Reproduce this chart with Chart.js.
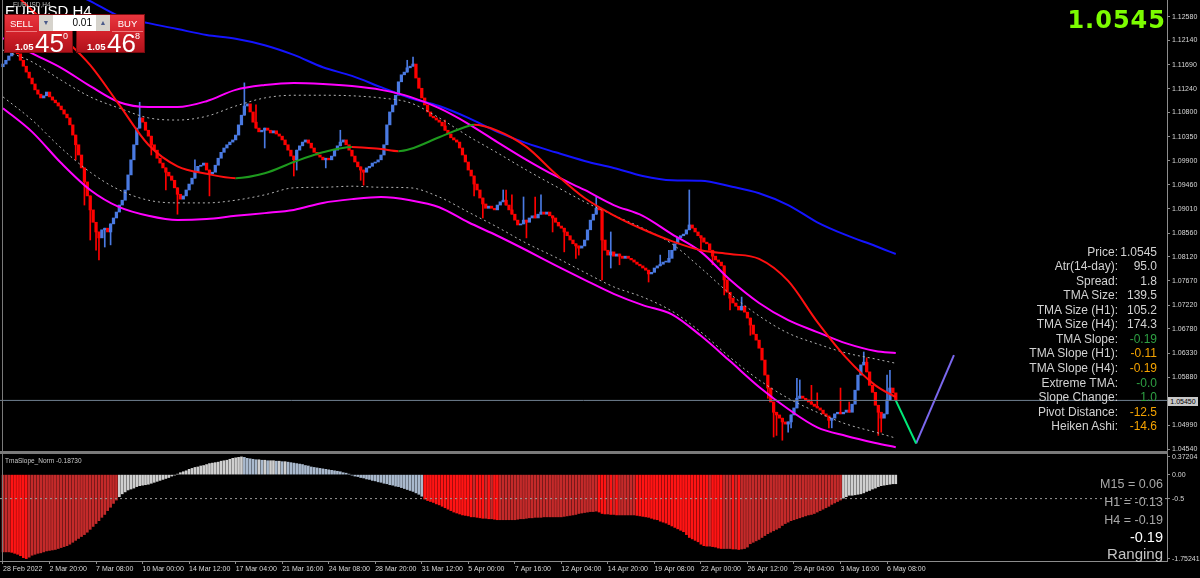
<!DOCTYPE html>
<html>
<head>
<meta charset="utf-8">
<title>EURUSD,H4</title>
<script src="https://cdn.jsdelivr.net/npm/chart.js@4.4.1/dist/chart.umd.min.js"></script>
<style>
  html, body { margin: 0; padding: 0; background: #000; }
  body { width: 1200px; height: 578px; position: relative; overflow: hidden; font-family: "Liberation Sans", Arial, sans-serif; }
  canvas { position: absolute; left: 0; }
  #priceChart { top: 0; }
  #slopeChart { top: 454px; }
  .rule { position: absolute; background: #7a7a7a; }
  #symBig { position: absolute; left: 5px; top: 3px; color: #fff; font-size: 15px; line-height: 16px; }
  #symSmall { position: absolute; left: 13px; top: 1px; color: #bdbdbd; font-size: 6.5px; line-height: 7px; }
  .box { position: absolute; top: 14px; width: 69px; height: 39px; border: 1px solid #7a0c10; box-sizing: border-box;
         background: linear-gradient(to bottom, #e8363e 0%, #d4222b 45%, #b0121b 100%); color: #fff; }
  .box .hdr { position: absolute; top: 1px; width: 31px; height: 15px; line-height: 15px; text-align: center; font-size: 9.5px;
              border-bottom: 1px solid #ef7a7e; }
  .box .s { position: absolute; left: 10px; top: 27px; font-size: 9.5px; line-height: 10px; font-weight: bold; }
  .box .b { position: absolute; left: 30px; top: 15px; font-size: 26px; line-height: 26px; }
  .box .u { position: absolute; left: 58px; top: 17px; font-size: 9px; line-height: 9px; }
  #lot { position: absolute; left: 39px; top: 15px; width: 71px; height: 16px; background: #fff; }
  #lot .ar { position: absolute; top: 0; width: 14px; height: 16px; background: #d6d3cc; color: #4a5a8a; font-size: 7px; line-height: 16px; text-align: center; }
  #lot .v { position: absolute; right: 18px; top: 0; font-size: 10px; line-height: 16px; color: #000; }
  #bigPrice { position: absolute; right: 34px; top: 8px; color: #7cfc00; font-family: "DejaVu Sans", sans-serif; font-weight: bold;
              font-size: 24px; line-height: 24px; letter-spacing: 1px; }
  #info { position: absolute; left: 960px; top: 244.6px; width: 200px; font-size: 12px; line-height: 14.55px; color: #d2d2d2; }
  #info div { height: 14.55px; white-space: nowrap; }
  #info .k { display: inline-block; width: 158px; text-align: right; }
  #info .v { display: inline-block; width: 39px; text-align: right; }
  .g { color: #2ea043; }
  .o { color: #f5a300; }
  #bidBox { position: absolute; left: 1168px; top: 397px; width: 30px; height: 9px; background: #c8c8c8; color: #000;
            font-size: 7px; line-height: 9px; text-align: center; }
  #slopeName { position: absolute; left: 5px; top: 457px; color: #c8c8c8; font-size: 6.5px; line-height: 7px; white-space: nowrap; }
  .tf { position: absolute; right: 37px; text-align: right; white-space: nowrap; }
</style>
</head>
<body>
<canvas id="priceChart" width="1200" height="451"></canvas>
<canvas id="slopeChart" width="1200" height="124"></canvas>
<div class="rule" style="left:0;top:451px;width:1168px;height:3px"></div>
<div class="rule" style="left:2px;top:0;width:1px;height:561px"></div>

<div id="symBig">EURUSD,H4</div>
<div id="symSmall">EURUSD,H4</div>
<div class="box" style="left:4px">
  <div class="hdr" style="left:1px">SELL</div>
  <span class="s">1.05</span><span class="b">45</span><span class="u">0</span>
</div>
<div class="box" style="left:76px">
  <div class="hdr" style="left:35px">BUY</div>
  <span class="s">1.05</span><span class="b">46</span><span class="u">8</span>
</div>
<div id="lot"><span class="ar" style="left:0">&#9660;</span><span class="v">0.01</span><span class="ar" style="right:0">&#9650;</span></div>

<div id="bigPrice">1.0545</div>
<div id="info">
  <div><span class="k">Price:</span><span class="v">1.0545</span></div>
  <div><span class="k">Atr(14-day):</span><span class="v">95.0</span></div>
  <div><span class="k">Spread:</span><span class="v">1.8</span></div>
  <div><span class="k">TMA Size:</span><span class="v">139.5</span></div>
  <div><span class="k">TMA Size (H1):</span><span class="v">105.2</span></div>
  <div><span class="k">TMA Size (H4):</span><span class="v">174.3</span></div>
  <div><span class="k">TMA Slope:</span><span class="v g">-0.19</span></div>
  <div><span class="k">TMA Slope (H1):</span><span class="v o">-0.11</span></div>
  <div><span class="k">TMA Slope (H4):</span><span class="v o">-0.19</span></div>
  <div><span class="k">Extreme TMA:</span><span class="v g">-0.0</span></div>
  <div><span class="k">Slope Change:</span><span class="v g">1.0</span></div>
  <div><span class="k">Pivot Distance:</span><span class="v o">-12.5</span></div>
  <div><span class="k">Heiken Ashi:</span><span class="v o">-14.6</span></div>
</div>
<div id="bidBox">1.05450</div>

<div id="slopeName">TmaSlope_Norm -0.18730</div>
<div class="tf" style="top:476.7px;font-size:12.5px;line-height:14px;color:#a8a8a8">M15 = 0.06</div>
<div class="tf" style="top:494.7px;font-size:12.5px;line-height:14px;color:#a8a8a8">H1 = -0.13</div>
<div class="tf" style="top:513px;font-size:12.5px;line-height:14px;color:#a8a8a8">H4 = -0.19</div>
<div class="tf" style="top:529px;font-size:14.5px;line-height:16px;color:#ffffff">-0.19</div>
<div class="tf" style="top:545px;font-size:15px;line-height:17px;color:#c4c4c4">Ranging</div>

<script>
// ---- price panel (EURUSD H4), one close per bar ----
const firstOpen = 1.1165;
const closes = [
  1.1170,1.1177,1.1185,1.1192,1.1196,1.1189,1.1177,1.1166,1.1155,1.1144,
  1.1133,1.1122,1.1114,1.1107,1.1111,1.1118,1.1109,1.1103,1.1098,1.1092,
  1.1085,1.1077,1.1070,1.1057,1.1038,1.1020,1.1001,1.0977,1.0951,1.0925,
  1.0899,1.0876,1.0858,1.0847,1.0862,1.0865,1.0858,1.0873,1.0884,1.0895,
  1.0908,1.0917,1.0936,1.0964,1.0992,1.1020,1.1051,1.1070,1.1062,1.1047,
  1.1036,1.1020,1.1010,1.0995,1.0986,1.0977,1.0969,1.0962,1.0954,1.0940,
  1.0928,1.0919,1.0925,1.0936,1.0947,1.0958,1.0969,1.0980,1.0982,1.0986,
  1.0973,1.0966,1.0969,1.0982,1.0995,1.1006,1.1014,1.1020,1.1025,1.1029,
  1.1038,1.1057,1.1075,1.1092,1.1096,1.1081,1.1062,1.1051,1.1044,1.1047,
  1.1051,1.1047,1.1042,1.1046,1.1040,1.1036,1.1029,1.1020,1.1010,1.0999,
  1.0992,1.1010,1.1018,1.1025,1.1029,1.1023,1.1014,1.1006,1.1001,1.0997,
  1.0992,1.0995,1.0992,1.0999,1.1010,1.1018,1.1025,1.1029,1.1020,1.1010,
  1.0999,1.0988,1.0979,1.0973,1.0969,1.0977,1.0980,1.0986,1.0988,1.0992,
  1.1001,1.1020,1.1057,1.1081,1.1094,1.1112,1.1137,1.1150,1.1155,1.1163,
  1.1166,1.1170,1.1144,1.1125,1.1107,1.1094,1.1081,1.1073,1.1070,1.1066,
  1.1062,1.1055,1.1047,1.1040,1.1033,1.1029,1.1025,1.1014,1.1001,1.0988,
  1.0973,1.0962,1.0947,1.0936,1.0921,1.0910,1.0902,1.0906,1.0902,1.0899,
  1.0908,1.0914,1.0917,1.0908,1.0899,1.0891,1.0880,1.0871,1.0873,1.0880,
  1.0876,1.0884,1.0888,1.0884,1.0891,1.0895,1.0891,1.0895,1.0888,1.0884,
  1.0876,1.0869,1.0865,1.0858,1.0851,1.0843,1.0836,1.0832,1.0828,1.0832,
  1.0843,1.0862,1.0880,1.0891,1.0902,1.0899,1.0843,1.0824,1.0815,1.0821,
  1.0813,1.0817,1.0813,1.0809,1.0813,1.0809,1.0806,1.0802,1.0798,1.0795,
  1.0791,1.0787,1.0780,1.0783,1.0791,1.0795,1.0798,1.0802,1.0802,1.0809,
  1.0824,1.0836,1.0847,1.0851,1.0854,1.0862,1.0871,1.0865,1.0858,1.0851,
  1.0847,1.0839,1.0836,1.0824,1.0813,1.0806,1.0802,1.0795,1.0769,1.0746,
  1.0735,1.0726,1.0720,1.0713,1.0720,1.0709,1.0698,1.0685,1.0668,1.0657,
  1.0642,1.0620,1.0592,1.0568,1.0542,1.0523,1.0518,1.0512,1.0505,1.0501,
  1.0505,1.0518,1.0531,1.0549,1.0553,1.0549,1.0546,1.0542,1.0538,1.0534,
  1.0531,1.0527,1.0520,1.0516,1.0508,1.0512,1.0520,1.0523,1.0520,1.0523,
  1.0527,1.0523,1.0538,1.0564,1.0592,1.0611,1.0616,1.0598,1.0573,1.0560,
  1.0536,1.0523,1.0512,1.0520,1.0546,1.0568,1.0559,1.0545
];
// wicks that stick out of the bodies (null = no wick on that side)
const wickBars = [
  25,28,30,32,33,35,37,47,51,56,60,66,71,83,87,90,100,101,111,116,123,124,139,141,
  152,162,165,172,173,175,179,180,183,185,189,193,197,198,204,206,209,212,222,226,
  229,236,240,244,248,250,254,257,263,265,266,268,270,271,273,274,278,280,284,285,
  288,291,296,297,301,302,304,305
];
const wickHighs = [
  null,null,null,null,null,null,null,1.1099,null,null,null,1.0992,null,1.1135,1.1094,null,null,null,null,1.1047,null,null,1.1177,1.1183,
  1.1066,null,null,1.0936,1.0936,1.0927,1.0923,null,1.0923,1.0927,null,null,null,null,1.0923,null,1.0858,null,null,1.0815,
  1.0824,1.0936,null,null,null,null,1.0737,null,null,null,null,null,null,null,1.0586,1.0583,1.0573,1.0559,null,null,
  1.0568,1.0542,1.0635,1.0624,null,null,1.0592,1.0601
];
const wickLows = [
  1.0992,1.0908,1.0843,1.0824,1.0806,1.0830,1.0834,null,1.1001,1.0936,1.0891,null,1.0925,null,null,1.1014,1.0962,1.0973,1.0977,null,1.0954,1.0945,null,null,
  null,1.0925,1.0884,null,null,null,null,1.0847,null,null,1.0858,1.0821,1.0809,1.0815,null,1.0769,1.0791,1.0797,1.0765,null,
  null,null,1.0824,1.0797,1.0741,1.0713,null,1.0666,1.0549,1.0477,1.0480,1.0471,1.0486,1.0494,null,null,null,null,1.0494,1.0494,
  null,null,null,null,1.0480,1.0486,null,null
];

// TMA bands and blue MA (read every 10 bars)
const bandBars   = [0,10,20,30,40,50,60,70,80,90,100,110,120,130,140,150,160,170,180,190,200,210,220,230,240,250,260,270,280,290,300,307];
const upperBand  = [1.1218,1.1190,1.1163,1.1129,1.1099,1.1090,1.1090,1.1101,1.1122,1.1131,1.1135,1.1133,1.1129,1.1122,1.1109,1.1088,1.1059,1.1025,1.0992,1.0962,1.0936,1.0908,1.0888,1.0854,1.0821,1.0769,1.0726,1.0694,1.0672,1.0651,1.0637,1.0633];
const upperInner = [1.1196,1.1174,1.1140,1.1109,1.1088,1.1070,1.1066,1.1073,1.1092,1.1107,1.1112,1.1112,1.1111,1.1107,1.1098,1.1070,1.1036,1.1005,1.0973,1.0943,1.0914,1.0889,1.0865,1.0836,1.0791,1.0743,1.0702,1.0670,1.0650,1.0633,1.0622,1.0614];
const lowerInner = [1.1109,1.1066,1.1014,1.0969,1.0936,1.0917,1.0912,1.0912,1.0917,1.0927,1.0940,1.0941,1.0943,1.0941,1.0940,1.0923,1.0895,1.0867,1.0837,1.0811,1.0783,1.0756,1.0737,1.0711,1.0672,1.0625,1.0583,1.0549,1.0523,1.0501,1.0486,1.0475];
const lowerBand  = [1.1088,1.1044,1.0986,1.0936,1.0904,1.0888,1.0880,1.0882,1.0888,1.0893,1.0899,1.0912,1.0919,1.0923,1.0917,1.0904,1.0876,1.0851,1.0824,1.0796,1.0769,1.0743,1.0722,1.0705,1.0665,1.0618,1.0570,1.0529,1.0495,1.0479,1.0466,1.0458];
const maLine     = [null,null,1.1313,1.1287,1.1259,1.1246,1.1235,1.1224,1.1217,1.1205,1.1187,1.1164,1.1148,1.1127,1.1107,1.1092,1.1070,1.1044,1.1023,1.1006,1.0990,1.0977,1.0962,1.0954,1.0953,1.0943,1.0930,1.0908,1.0876,1.0852,1.0832,1.0817];

// slope-coloured TMA centre line
const tmaBars = [0,10,20,30,40,50,60,70,80,90,100,110,120,130,136,140,150,160,162,170,180,190,200,210,220,230,240,250,260,270,280,290,300,307];
const tmaLine = [1.1322,1.1270,1.1222,1.1168,1.1094,1.1020,1.0980,1.0966,1.0958,1.0967,1.0988,1.1006,1.1016,1.1012,1.1008,1.1012,1.1034,1.1055,1.1057,1.1046,1.1016,1.0966,1.0921,1.0889,1.0863,1.0841,1.0824,1.0817,1.0808,1.0767,1.0691,1.0624,1.0573,1.0551];

// projection legs and bid
const projBars   = [307,314,327];
const projPrices = [1.0545,1.0465,1.0629];
const bidPrice = 1.0545;

// axes
const priceTicks = ['1.12580','1.12140','1.11690','1.11240','1.10800','1.10350','1.09900','1.09460','1.09010','1.08560','1.08120','1.07670','1.07220','1.06780','1.06330','1.05880','1.04990','1.04540'];
const dateTickBars   = [0,16,32,48,64,80,96,112,128,144,160,176,192,208,224,240,256,272,288,304];
const dateTickLabels = ['28 Feb 2022','2 Mar 20:00','7 Mar 08:00','10 Mar 00:00','14 Mar 12:00','17 Mar 04:00','21 Mar 16:00','24 Mar 08:00','28 Mar 20:00','31 Mar 12:00','5 Apr 00:00','7 Apr 16:00','12 Apr 04:00','14 Apr 20:00','19 Apr 08:00','22 Apr 00:00','26 Apr 12:00','29 Apr 04:00','3 May 16:00','6 May 08:00'];

// ---- TmaSlope_Norm sub-window ----
const slopeValues = [
  -1.61,-1.61,-1.61,-1.62,-1.64,-1.66,-1.69,-1.73,-1.75,-1.72,
  -1.68,-1.66,-1.64,-1.63,-1.61,-1.59,-1.58,-1.57,-1.56,-1.54,
  -1.52,-1.50,-1.48,-1.45,-1.41,-1.37,-1.33,-1.29,-1.25,-1.20,
  -1.14,-1.08,-1.02,-0.96,-0.89,-0.83,-0.75,-0.68,-0.60,-0.53,
  -0.46,-0.40,-0.36,-0.32,-0.30,-0.28,-0.25,-0.23,-0.22,-0.21,
  -0.20,-0.18,-0.16,-0.14,-0.12,-0.10,-0.08,-0.06,-0.03,-0.01,
  0.01,0.04,0.06,0.08,0.11,0.13,0.15,0.16,0.18,0.19,
  0.21,0.23,0.24,0.25,0.26,0.28,0.29,0.30,0.32,0.34,
  0.35,0.36,0.37,0.36,0.34,0.33,0.32,0.31,0.31,0.30,
  0.30,0.29,0.29,0.29,0.28,0.28,0.27,0.27,0.26,0.25,
  0.24,0.23,0.22,0.21,0.19,0.18,0.16,0.15,0.14,0.13,
  0.12,0.11,0.10,0.09,0.08,0.07,0.06,0.04,0.03,0.01,
  -0.01,-0.03,-0.04,-0.06,-0.07,-0.09,-0.10,-0.12,-0.13,-0.15,
  -0.16,-0.18,-0.19,-0.21,-0.22,-0.24,-0.25,-0.27,-0.29,-0.31,
  -0.33,-0.35,-0.38,-0.41,-0.45,-0.51,-0.54,-0.56,-0.58,-0.61,
  -0.63,-0.66,-0.69,-0.72,-0.75,-0.78,-0.80,-0.82,-0.84,-0.85,
  -0.86,-0.88,-0.88,-0.89,-0.90,-0.91,-0.91,-0.92,-0.92,-0.93,
  -0.94,-0.94,-0.94,-0.94,-0.94,-0.94,-0.94,-0.93,-0.92,-0.92,
  -0.91,-0.90,-0.90,-0.89,-0.89,-0.89,-0.88,-0.88,-0.88,-0.88,
  -0.88,-0.88,-0.88,-0.87,-0.86,-0.85,-0.84,-0.83,-0.81,-0.80,
  -0.79,-0.78,-0.77,-0.77,-0.76,-0.78,-0.81,-0.82,-0.82,-0.83,
  -0.83,-0.84,-0.84,-0.84,-0.84,-0.84,-0.84,-0.84,-0.85,-0.86,
  -0.87,-0.88,-0.89,-0.91,-0.93,-0.94,-0.97,-0.99,-1.01,-1.04,
  -1.07,-1.10,-1.13,-1.16,-1.19,-1.25,-1.31,-1.34,-1.37,-1.40,
  -1.45,-1.48,-1.49,-1.49,-1.50,-1.51,-1.53,-1.54,-1.54,-1.54,
  -1.54,-1.55,-1.55,-1.56,-1.55,-1.54,-1.51,-1.44,-1.41,-1.38,
  -1.35,-1.31,-1.27,-1.23,-1.20,-1.17,-1.14,-1.11,-1.06,-1.02,
  -0.99,-0.96,-0.94,-0.92,-0.90,-0.88,-0.86,-0.84,-0.83,-0.81,
  -0.78,-0.75,-0.72,-0.69,-0.66,-0.62,-0.59,-0.56,-0.53,-0.49,
  -0.46,-0.43,-0.43,-0.42,-0.41,-0.40,-0.38,-0.35,-0.33,-0.30,
  -0.28,-0.25,-0.23,-0.22,-0.21,-0.20,-0.19,-0.19
];
const slopeTicks = ['0.37204','0.00','-0.5','-1.75241'];
const slopeLevel = -0.5;

// ---------------------------------------------------------------
Chart.defaults.font.family = '"Liberation Sans", Arial, sans-serif';
Chart.defaults.animation = false;

const X_MIN = -1.03, X_MAX = 400.27;
const BULL = '#4a7ae2', BEAR = '#ff0000';
const AXIS = '#8c8c8c', LABEL = '#d8d8d8';

const opens = closes.map((c, i) => i ? closes[i - 1] : firstOpen);
const candleColors = closes.map((c, i) => c >= opens[i] ? BULL : BEAR);

function pts(bars, vals) {
  return bars.map((b, k) => ({ x: b, y: vals[k] })).filter(p => p.y !== null);
}
function line(data, color, width, extra) {
  return Object.assign({
    type: 'line', data: data, borderColor: color, borderWidth: width,
    pointRadius: 0, fill: false, cubicInterpolationMode: 'monotone', order: 3
  }, extra || {});
}
function rightAxis(min, max, labels) {
  return {
    position: 'right', min: min, max: max, beginAtZero: false,
    afterBuildTicks: s => { s.ticks = labels.map(v => ({ value: Number(v) })); },
    afterFit: s => { s.width = 33; s.paddingTop = 0; s.paddingBottom = 0; },
    ticks: { callback: (v, i) => labels[i], color: LABEL, font: { size: 7 }, padding: 2, autoSkip: false },
    grid: { drawOnChartArea: false, drawTicks: true, tickLength: 3, color: AXIS },
    border: { display: true, color: AXIS }
  };
}

const wickData = wickBars.map((b, k) => ({
  x: b,
  y: [wickLows[k] !== null ? wickLows[k] : Math.min(opens[b], closes[b]),
      wickHighs[k] !== null ? wickHighs[k] : Math.max(opens[b], closes[b])]
}));

new Chart(document.getElementById('priceChart'), {
  type: 'bar',
  data: {
    datasets: [
      line([{ x: X_MIN, y: bidPrice }, { x: X_MAX, y: bidPrice }], '#708090', 1, { order: 0, cubicInterpolationMode: 'default' }),
      line(pts(projBars.slice(0, 2), projPrices.slice(0, 2)), '#00ea78', 2, { order: 1, cubicInterpolationMode: 'default' }),
      line(pts(projBars.slice(1), projPrices.slice(1)), '#7b68ee', 2, { order: 1, cubicInterpolationMode: 'default' }),
      line(pts(tmaBars, tmaLine), '#ff1010', 2, {
        order: 1,
        segment: { borderColor: c => c.p1.parsed.y > c.p0.parsed.y ? '#1e9a1e' : '#ff1010' }
      }),
      line(pts(bandBars, upperBand), '#ff00ff', 2, { order: 2 }),
      line(pts(bandBars, lowerBand), '#ff00ff', 2, { order: 2 }),
      line(pts(bandBars, maLine), '#1414ff', 2, { order: 2 }),
      line(pts(bandBars, upperInner), '#b4b4b4', 1, { borderDash: [2, 3] }),
      line(pts(bandBars, lowerInner), '#b4b4b4', 1, { borderDash: [2, 3] }),
      {
        type: 'bar', order: 10, grouped: false, barThickness: 2.6, minBarLength: 1, borderWidth: 0,
        data: closes.map((c, i) => ({ x: i, y: [opens[i], c] })),
        backgroundColor: candleColors
      },
      {
        type: 'bar', order: 11, grouped: false, barThickness: 1, borderWidth: 0,
        data: wickData,
        backgroundColor: wickBars.map(b => candleColors[b])
      }
    ]
  },
  options: {
    responsive: false, devicePixelRatio: 1, events: [],
    layout: { padding: 0 },
    plugins: { legend: { display: false }, tooltip: { enabled: false } },
    scales: {
      x: { type: 'linear', display: false, min: X_MIN, max: X_MAX, offset: false, grid: { offset: false } },
      y: rightAxis(1.0451, 1.1289, priceTicks)
    }
  }
});

const slopeColors = slopeValues.map((v, i) => {
  const falling = i > 0 && v < slopeValues[i - 1];
  if (v < slopeLevel) return falling ? '#ff1414' : '#c42a2a';
  return falling ? '#a9b9cd' : '#cfcfcf';
});

new Chart(document.getElementById('slopeChart'), {
  type: 'bar',
  data: {
    datasets: [
      line([{ x: X_MIN, y: slopeLevel }, { x: X_MAX, y: slopeLevel }], '#9a9a9a', 1, { order: 0, borderDash: [2, 3], cubicInterpolationMode: 'default' }),
      {
        type: 'bar', order: 2, grouped: false, barThickness: 2, borderWidth: 0,
        data: slopeValues.map((v, i) => ({ x: i, y: v })),
        backgroundColor: slopeColors
      }
    ]
  },
  options: {
    responsive: false, devicePixelRatio: 1, events: [],
    layout: { padding: 0 },
    plugins: { legend: { display: false }, tooltip: { enabled: false } },
    scales: {
      x: {
        type: 'linear', min: X_MIN, max: X_MAX, offset: false,
        afterBuildTicks: s => { s.ticks = dateTickBars.map(v => ({ value: v })); },
        afterFit: s => { s.height = 17; s.paddingLeft = 0; s.paddingRight = 0; },
        ticks: { callback: (v, i) => dateTickLabels[i], align: 'start', color: LABEL, font: { size: 7 }, padding: 1,
                 autoSkip: false, maxRotation: 0, minRotation: 0 },
        grid: { offset: false, drawOnChartArea: false, drawTicks: true, tickLength: 3, color: AXIS },
        border: { display: true, color: AXIS }
      },
      y: rightAxis(-1.80, 0.43, slopeTicks)
    }
  }
});
</script>
</body>
</html>
